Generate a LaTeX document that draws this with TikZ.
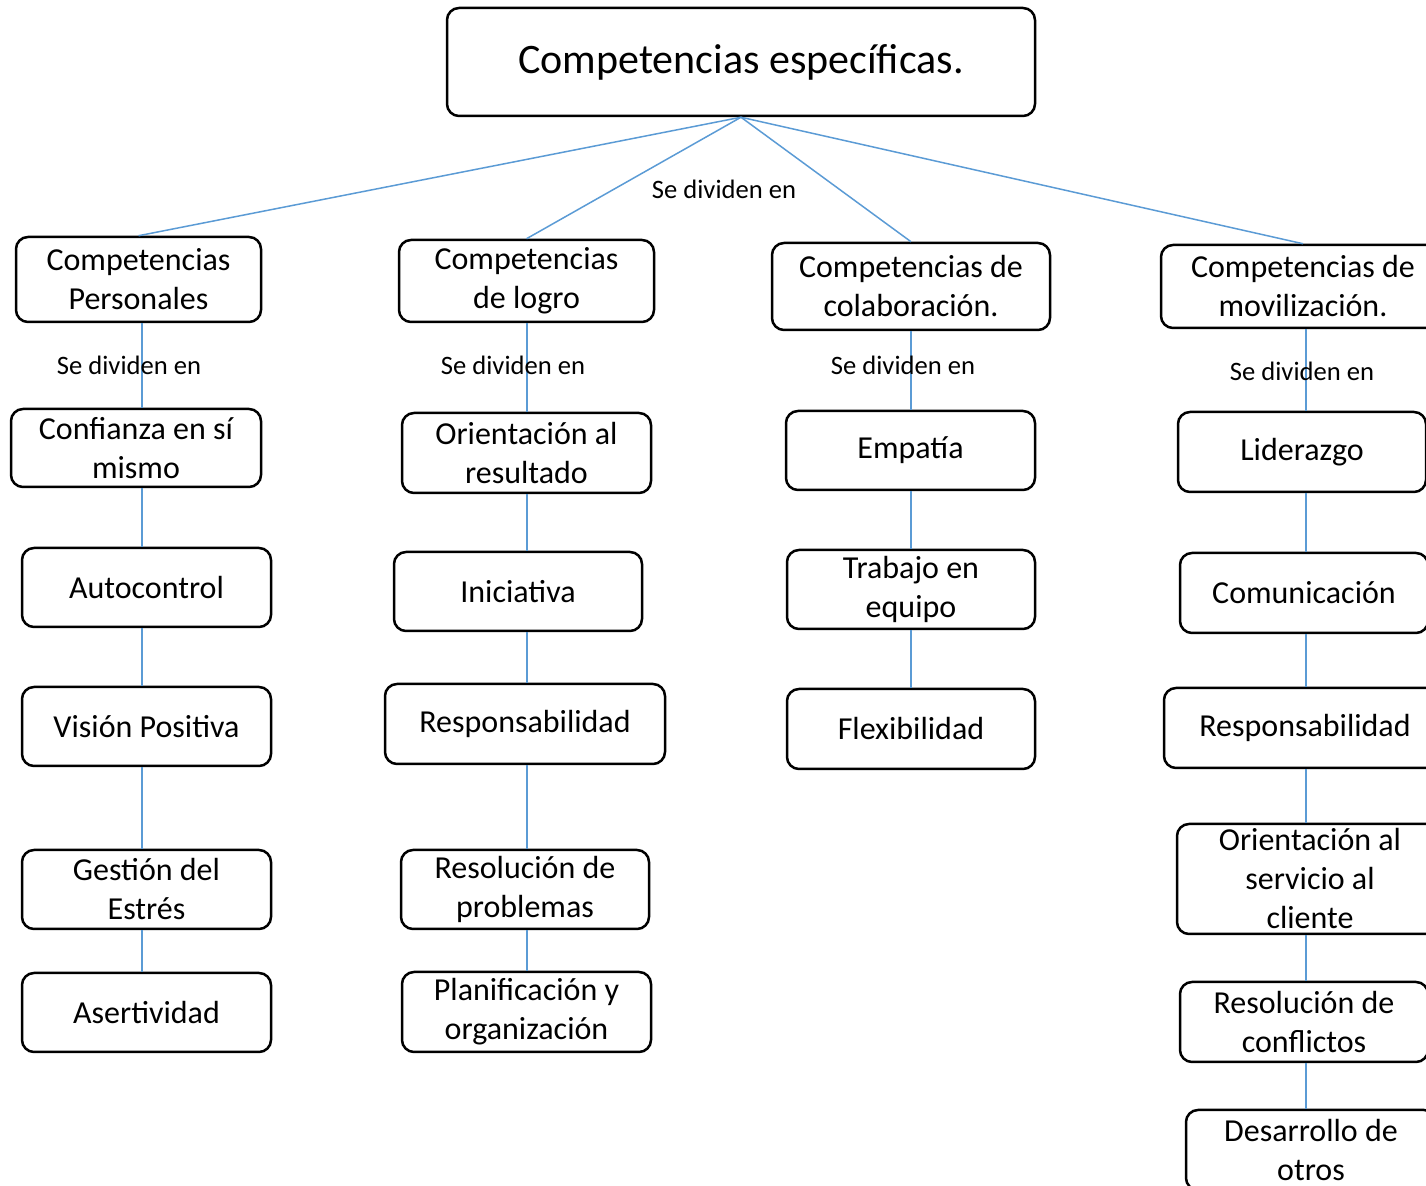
\documentclass[tikz,border=0pt]{standalone}
\usepackage{fontspec}
\setmainfont{Carlito}
\definecolor{lienbleu}{RGB}{91,155,213}
\tikzset{
  boite/.style={draw, rounded corners=6pt, line width=1.25pt, fill=white, align=center, inner sep=0pt,
    minimum width=124.5pt, minimum height=39.5pt, font=\fontsize{16}{19.5}\selectfont},
  lien/.style={draw=lienbleu, line width=0.75pt},
  etiq/.style={font=\fontsize{13.3}{16}\selectfont, inner sep=0pt}
}
\begin{document}
\begin{tikzpicture}[x=0.5pt, y=-0.5pt]
  \useasboundingbox (0,0) rectangle (1426,1186);
  % colonnes
  \coordinate (colA) at (142,0);
  \coordinate (colB) at (527,0);
  \coordinate (colC) at (911,0);
  \coordinate (colD) at (1306,0);

  % Titre
  \node[boite, minimum width=294pt, minimum height=54pt, font=\fontsize{21}{25}\selectfont] (titre) at (741,62) {Competencias específicas.};

  % Premier niveau
  \node[boite, minimum width=122.5pt, minimum height=42.5pt] (pers) at (138.5,279.5) {Competencias\\Personales};
  \node[boite, minimum width=127.5pt, minimum height=41pt] (logro) at (526.5,281) {Competencias\\de logro};
  \node[boite, minimum width=139pt, minimum height=43.5pt] (colab) at (911,286.5) {Competencias de\\colaboración.};
  \node[boite, minimum width=142pt, minimum height=41.5pt] (movil) at (1303,286.5) {Competencias de\\movilización.};

  \draw[lien] (titre.south) -- (pers.north);
  \draw[lien] (titre.south) -- (logro.north);
  \draw[lien] (titre.south) -- (colab.north);
  \draw[lien] (titre.south) -- (movil.north);
  \node[etiq] (sd) at (724,189) {Se dividen en};

  % Personales
  \node[boite, minimum width=125pt, minimum height=39pt] (conf) at (136,448) {Confianza en sí\\mismo};
  \node[boite] (autoc) at (146.5,587.5) {Autocontrol};
  \node[boite] (vision) at (146.5,726.5) {Visión Positiva};
  \node[boite] (gestion) at (146.5,889.5) {Gestión del\\Estrés};
  \node[boite] (asert) at (146.5,1012.5) {Asertividad};
  \draw[lien] (pers.south -| colA) -- (conf.north -| colA);
  \draw[lien] (conf.south -| colA) -- (autoc.north -| colA);
  \draw[lien] (autoc.south -| colA) -- (vision.north -| colA);
  \draw[lien] (vision.south -| colA) -- (gestion.north -| colA);
  \draw[lien] (gestion.south -| colA) -- (asert.north -| colA);
  \node[etiq] (sdA) at (129,365) {Se dividen en};

  % De logro
  \node[boite, minimum height=40pt] (orres) at (526.5,453) {Orientación al\\resultado};
  \node[boite, minimum width=124pt] (inic) at (518,591.5) {Iniciativa};
  \node[boite, minimum width=140pt, minimum height=40pt] (resp) at (525,724) {Responsabilidad};
  \node[boite, minimum width=124pt] (resol) at (525,889.5) {Resolución de\\problemas};
  \node[boite, minimum height=40pt] (planif) at (526.5,1012) {Planificación y\\organización};
  \draw[lien] (logro.south -| colB) -- (orres.north -| colB);
  \draw[lien] (orres.south -| colB) -- (inic.north -| colB);
  \draw[lien] (inic.south -| colB) -- (resp.north -| colB);
  \draw[lien] (resp.south -| colB) -- (resol.north -| colB);
  \draw[lien] (resol.south -| colB) -- (planif.north -| colB);
  \node[etiq] (sdB) at (513,365) {Se dividen en};

  % De colaboración
  \node[boite] (empat) at (910.5,450.5) {Empatía};
  \node[boite, minimum width=124pt] (trab) at (911,589.5) {Trabajo en\\equipo};
  \node[boite, minimum width=124pt, minimum height=40pt] (flex) at (911,729) {Flexibilidad};
  \draw[lien] (colab.south -| colC) -- (empat.north -| colC);
  \draw[lien] (empat.south -| colC) -- (trab.north -| colC);
  \draw[lien] (trab.south -| colC) -- (flex.north -| colC);
  \node[etiq] (sdC) at (903,365) {Se dividen en};

  % De movilización
  \node[boite, minimum width=124pt, minimum height=40pt] (lider) at (1302,452) {Liderazgo};
  \node[boite, minimum width=124pt, minimum height=40pt] (comun) at (1304,593) {Comunicación};
  \node[boite, minimum width=141pt, minimum height=40pt] (respB) at (1305,728) {Responsabilidad};
  \node[boite, minimum width=133pt, minimum height=55pt] (orserv) at (1310,879) {Orientación al\\servicio al\\cliente};
  \node[boite, minimum width=124pt, minimum height=40pt] (resconf) at (1304,1022) {Resolución de\\conflictos};
  \node[boite, minimum width=125pt, minimum height=40pt] (desarr) at (1311,1150) {Desarrollo de\\otros};
  \draw[lien] (movil.south -| colD) -- (lider.north -| colD);
  \draw[lien] (lider.south -| colD) -- (comun.north -| colD);
  \draw[lien] (comun.south -| colD) -- (respB.north -| colD);
  \draw[lien] (respB.south -| colD) -- (orserv.north -| colD);
  \draw[lien] (orserv.south -| colD) -- (resconf.north -| colD);
  \draw[lien] (resconf.south -| colD) -- (desarr.north -| colD);
  \node[etiq] (sdD) at (1302,371) {Se dividen en};
\end{tikzpicture}
\end{document}
